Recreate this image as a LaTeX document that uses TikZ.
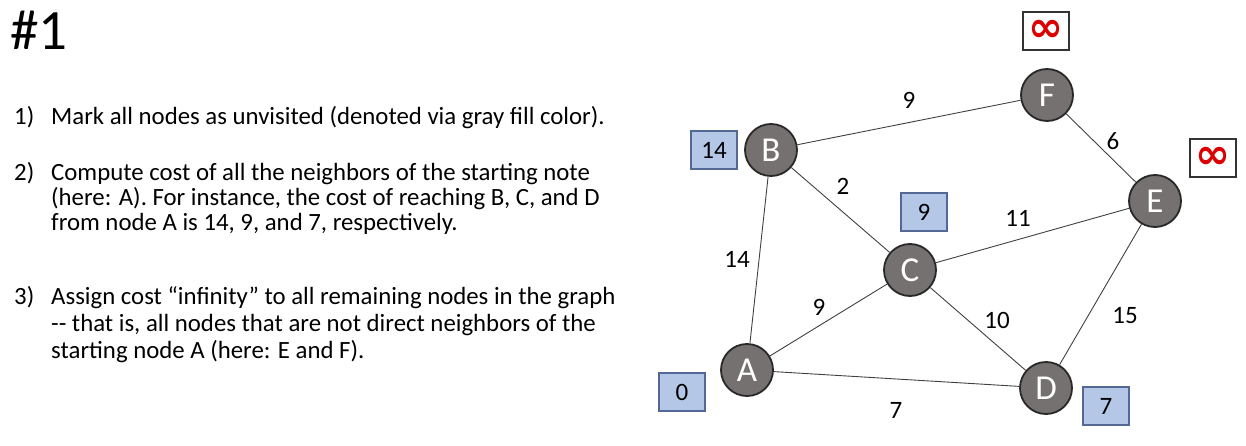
\documentclass[tikz,border=0pt]{standalone}
\usepackage{fontspec}
\setmainfont{Carlito}
\newfontfamily\symfont{DejaVu Sans}
\definecolor{nodegray}{RGB}{118,113,113}
\definecolor{nodeedge}{RGB}{40,40,40}
\definecolor{boxfill}{RGB}{180,199,231}
\definecolor{boxedge}{RGB}{84,104,150}
\definecolor{edgecol}{RGB}{64,64,64}
\definecolor{infred}{RGB}{220,0,0}
\begin{document}
\begin{tikzpicture}[x=1pt,y=-1pt,
  vert/.style={circle,fill=nodegray,draw=nodeedge,line width=1.8pt,minimum size=52pt,inner sep=0pt,text=white,font=\fontsize{35}{35}\selectfont},
  costbox/.style={rectangle,fill=boxfill,draw=boxedge,line width=1.2pt,minimum width=46pt,minimum height=38pt,inner sep=0pt,font=\fontsize{25}{25}\selectfont},
  infbox/.style={rectangle,fill=white,draw=black!80,line width=1.2pt,minimum width=46pt,minimum height=38pt,inner sep=0pt,text=infred,font=\symfont\bfseries\fontsize{42}{42}\selectfont},
  wlab/.style={font=\fontsize{25}{25}\selectfont,inner sep=1pt},
  link/.style={draw=edgecol,line width=0.9pt},
  txt/.style={anchor=base west,inner sep=0pt,font=\fontsize{24.8}{24.8}\selectfont}]
\useasboundingbox (0,0) rectangle (1246,446);
% title
\node[anchor=base west,inner sep=0pt,font=\fontsize{57}{57}\selectfont] (title) at (10,50) {\#1};
% list
\node[txt] (n1) at (14,125) {1)};
\node[txt] (l1) at (51,125) {Mark all nodes as unvisited (denoted via gray fill color).};
\node[txt] (n2) at (14,181) {2)};
\node[txt] (l2a) at (51,181) {Compute cost of all the neighbors of the starting note};
\node[txt] (l2b) at (51,206) {(here: A). For instance, the cost of reaching B, C, and D};
\node[txt] (l2c) at (51,231) {from node A is 14, 9, and 7, respectively.};
\node[txt] (n3) at (14,304) {3)};
\node[txt] (l3a) at (51,304) {Assign cost “infinity” to all remaining nodes in the graph};
\node[txt] (l3b) at (51,331) {-{}- that is, all nodes that are not direct neighbors of the};
\node[txt] (l3c) at (51,358) {starting node A (here: E and F).};
% vertices
\node[vert] (A) at (747,370) {A};
\node[vert] (B) at (771,150) {B};
\node[vert] (C) at (910,270) {C};
\node[vert] (D) at (1046,388) {D};
\node[vert] (E) at (1155,201) {E};
\node[vert] (F) at (1047,95) {F};
% edges
\path[link] (B) -- (F);
\path[link] (F) -- (E);
\path[link] (B) -- (C);
\path[link] (C) -- (E);
\path[link] (A) -- (B);
\path[link] (A) -- (C);
\path[link] (C) -- (D);
\path[link] (D) -- (E);
\path[link] (A) -- (D);
% edge labels
\node[wlab] (wBF) at (909,100) {9};
\node[wlab] (wFE) at (1113,141) {6};
\node[wlab] (wBC) at (843,186) {2};
\node[wlab] (wCE) at (1018,218) {11};
\node[wlab] (wAB) at (737,259) {14};
\node[wlab] (wAC) at (819,307) {9};
\node[wlab] (wCD) at (997,320) {10};
\node[wlab] (wDE) at (1125,316) {15};
\node[wlab] (wAD) at (896,410) {7};
% cost boxes
\node[costbox] (cB) at (714,150) {14};
\node[costbox] (cC) at (924,212) {9};
\node[costbox] (cA) at (682,392) {0};
\node[costbox] (cD) at (1106,406) {7};
\node[infbox] (iF) at (1046,31) {∞};
\node[infbox] (iE) at (1213,158) {∞};
\end{tikzpicture}
\end{document}
